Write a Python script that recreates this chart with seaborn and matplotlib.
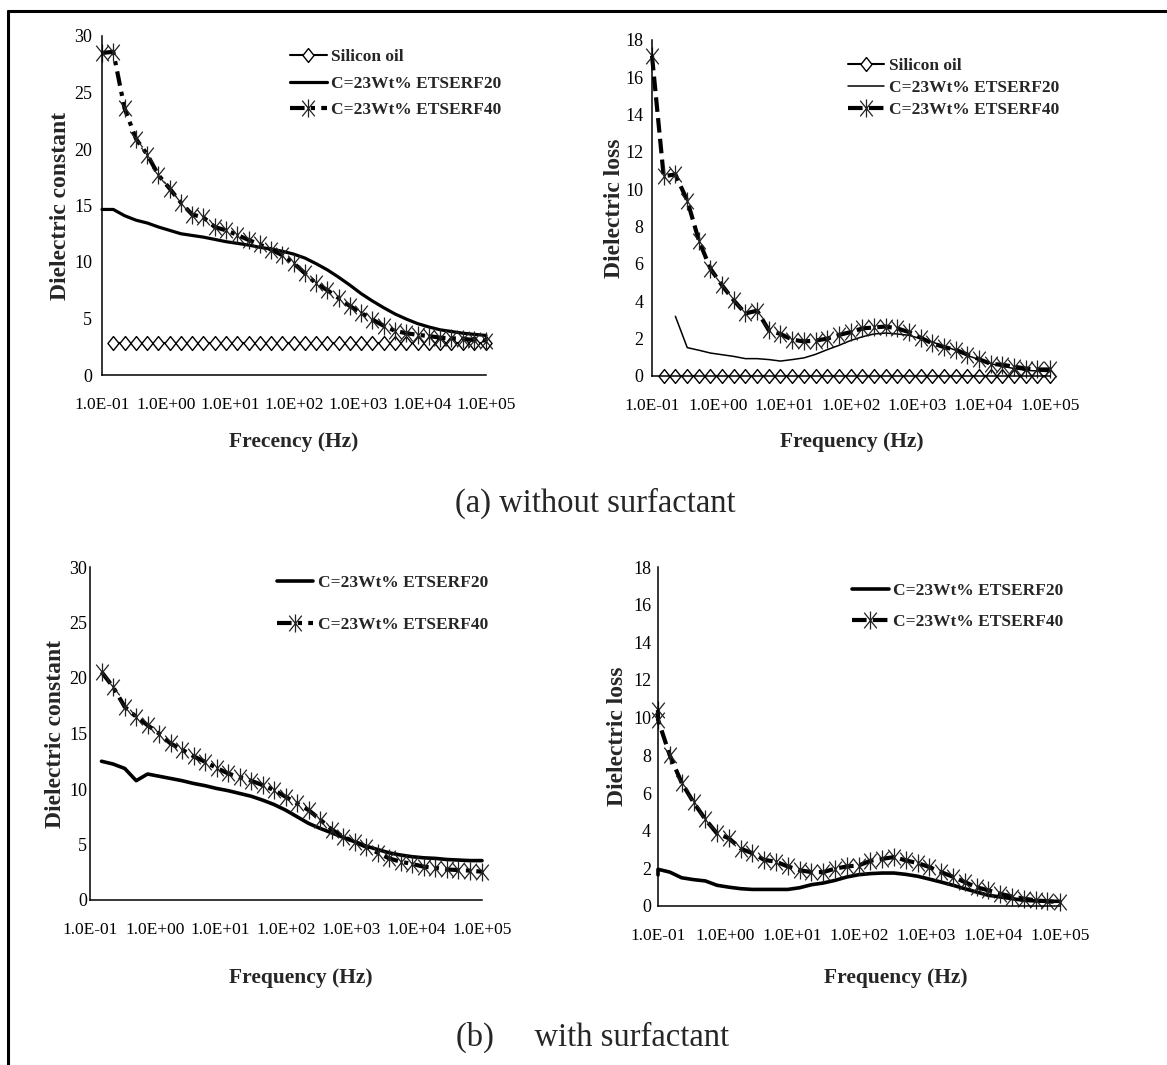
import numpy as np
import pandas as pd
import matplotlib
matplotlib.use("Agg")
import matplotlib.pyplot as plt
from matplotlib.path import Path
from matplotlib.lines import Line2D
from matplotlib.ticker import FixedLocator, FixedFormatter, MultipleLocator, LogLocator, NullFormatter
import seaborn as sns

# ---------------- data ----------------
freq = [0.1, 0.15, 0.225, 0.34, 0.51, 0.76, 1.14, 1.71, 2.56, 3.84, 5.77, 8.65,
        13.0, 19.5, 29.2, 43.8, 65.7, 98.5, 148, 222, 333, 499, 748, 1120, 1680,
        2530, 3790, 5680, 8520, 12800, 19200, 28800, 43100, 64700, 100000]

xtick_values = [0.1, 1, 10, 100, 1000, 10000, 100000]
xtick_labels = ["1.0E-01", "1.0E+00", "1.0E+01", "1.0E+02", "1.0E+03", "1.0E+04", "1.0E+05"]

label_oil = "Silicon oil"
label_20 = "C=23Wt% ETSERF20"
label_40 = "C=23Wt% ETSERF40"

# (a) without surfactant - dielectric constant
freq_oil_a = freq[1:]
oil_const_a = [2.85, 2.85, 2.85, 2.85, 2.85, 2.85, 2.85, 2.85, 2.85, 2.85, 2.85, 2.85,
               2.85, 2.85, 2.85, 2.85, 2.85, 2.85, 2.85, 2.85, 2.85, 2.85, 2.85, 2.85,
               2.85, 2.85, 2.85, 2.85, 2.85, 2.85, 2.85, 2.85, 2.85, 2.85]
f20_const_a = [14.65, 14.65, 14.1, 13.7, 13.45, 13.1, 12.8, 12.5, 12.35, 12.2, 12.0, 11.8,
               11.65, 11.5, 11.3, 11.15, 10.95, 10.7, 10.35, 9.85, 9.3, 8.65, 7.95, 7.2,
               6.55, 5.95, 5.4, 4.95, 4.55, 4.25, 4.0, 3.85, 3.7, 3.6, 3.5]
f40_const_a = [28.5, 28.6, 23.6, 20.9, 19.5, 17.7, 16.5, 15.25, 14.2, 13.95, 13.1, 12.8,
               12.4, 11.95, 11.55, 11.1, 10.6, 9.9, 9.0, 8.1, 7.5, 6.8, 6.1, 5.5,
               4.9, 4.35, 3.9, 3.7, 3.55, 3.45, 3.3, 3.25, 3.2, 3.1, 3.05]

# (a) without surfactant - dielectric loss
oil_loss_a = [0.02, 0.02, 0.02, 0.02, 0.02, 0.02, 0.02, 0.02, 0.02, 0.02, 0.02, 0.02,
              0.02, 0.02, 0.02, 0.02, 0.02, 0.02, 0.02, 0.02, 0.02, 0.02, 0.02, 0.02,
              0.02, 0.02, 0.02, 0.02, 0.02, 0.02, 0.02, 0.02, 0.02, 0.02]
freq_20_loss_a = freq[2:]
f20_loss_a = [3.2, 1.52, 1.38, 1.23, 1.14, 1.05, 0.93, 0.93, 0.88, 0.8, 0.88, 0.97,
              1.16, 1.41, 1.64, 1.9, 2.1, 2.25, 2.3, 2.25, 2.18, 2.0, 1.82, 1.6,
              1.38, 1.1, 0.88, 0.66, 0.52, 0.4, 0.3, 0.27, 0.23]
f40_loss_a = [17.15, 10.7, 10.8, 9.4, 7.25, 5.75, 4.85, 4.05, 3.35, 3.5, 2.45, 2.25,
              1.95, 1.85, 1.9, 2.0, 2.2, 2.35, 2.55, 2.6, 2.65, 2.55, 2.35, 2.05,
              1.75, 1.55, 1.4, 1.15, 0.9, 0.65, 0.6, 0.5, 0.4, 0.35, 0.35]

# (b) with surfactant - dielectric constant
freq_b = freq[1:]
f20_const_b = [12.5, 12.25, 11.85, 10.75, 11.35, 11.15, 10.95, 10.75, 10.5, 10.3, 10.05, 9.85,
               9.6, 9.35, 9.0, 8.6, 8.1, 7.5, 6.9, 6.45, 6.05, 5.65, 5.25, 4.85,
               4.55, 4.25, 4.05, 3.9, 3.8, 3.75, 3.65, 3.6, 3.55, 3.55]
f40_const_b = [20.55, 19.2, 17.4, 16.5, 15.75, 15.0, 14.1, 13.55, 12.95, 12.45, 11.9, 11.4,
               11.05, 10.75, 10.35, 9.9, 9.3, 8.7, 8.1, 7.25, 6.35, 5.7, 5.25, 4.8,
               4.25, 3.75, 3.45, 3.25, 3.0, 2.9, 2.75, 2.7, 2.65, 2.55]

# (b) with surfactant - dielectric loss (two readings at 0.1 Hz)
freq_b_loss = [0.1] + freq
f20_loss_b = [1.65, 1.95, 1.8, 1.5, 1.4, 1.33, 1.1, 1.0, 0.92, 0.88, 0.88, 0.88, 0.88,
              0.97, 1.13, 1.22, 1.36, 1.54, 1.66, 1.72, 1.75, 1.75, 1.68, 1.58,
              1.43, 1.27, 1.1, 0.92, 0.74, 0.57, 0.48, 0.39, 0.3, 0.27, 0.25, 0.25]
f40_loss_b = [10.4, 9.9, 8.0, 6.55, 5.5, 4.6, 3.85, 3.6, 3.05, 2.8, 2.45, 2.35, 2.1,
              1.9, 1.8, 1.8, 1.98, 2.1, 2.15, 2.4, 2.5, 2.6, 2.42, 2.28,
              2.07, 1.8, 1.55, 1.27, 1.0, 0.83, 0.65, 0.5, 0.39, 0.3, 0.25, 0.21]

# ---------------- style ----------------
sns.set_style("white")
plt.rcParams["font.family"] = ["Liberation Serif", "DejaVu Serif"]
plt.rcParams["axes.linewidth"] = 1.1
plt.rcParams["legend.numpoints"] = 1

star = Path([(-0.8, -1), (0.8, 1), (-0.8, 1), (0.8, -1), (0, -1.15), (0, 1.15)],
            [Path.MOVETO, Path.LINETO, Path.MOVETO, Path.LINETO, Path.MOVETO, Path.LINETO])
diamond = Path([(0, 1), (0.8, 0), (0, -1), (-0.8, 0), (0, 1)],
               [Path.MOVETO, Path.LINETO, Path.LINETO, Path.LINETO, Path.CLOSEPOLY])

W, H = 1167, 1065
fig = plt.figure(figsize=(W / 100, H / 100), dpi=100)


def rect(l, r, t, b):
    return [l / W, 1 - b / H, (r - l) / W, (b - t) / H]


def draw(ax, x, y, label, **kws):
    df = pd.DataFrame({"f": x, "v": y})
    sns.lineplot(data=df, x="f", y="v", ax=ax, estimator=None, sort=False,
                 label=label, clip_on=False, **kws)


def oil(ax, x, y):
    draw(ax, x, y, label_oil, color="black", lw=1.5, marker=diamond, markersize=10,
         markerfacecolor="white", markeredgecolor="black", markeredgewidth=1.0)


def s20(ax, x, y, lw):
    draw(ax, x, y, label_20, color="black", lw=lw)


def s40(ax, x, y, ls):
    draw(ax, x, y, label_40, color="black", lw=3.0, linestyle=ls, marker=star,
         markersize=13, markerfacecolor="none", markeredgecolor="#222222",
         markeredgewidth=0.9)


def style_axis(ax, ymax, ymaj, ymin, ylabel, xlabel, ylab_x, xlab_xy, ypad):
    ax.set_xscale("log")
    ax.set_xlim(0.1, 1e5)
    ax.set_ylim(0, ymax)
    ax.xaxis.set_major_locator(FixedLocator(xtick_values))
    ax.xaxis.set_major_formatter(FixedFormatter(xtick_labels))
    ax.xaxis.set_minor_locator(LogLocator(base=10, subs=np.arange(2, 10)))
    ax.xaxis.set_minor_formatter(NullFormatter())
    ax.yaxis.set_major_locator(MultipleLocator(ymaj))
    ax.yaxis.set_minor_locator(MultipleLocator(ymin))
    ax.tick_params(axis="both", which="both", direction="in", colors="black", width=1.0)
    ax.tick_params(axis="x", which="major", labelsize=12.5)
    ax.tick_params(axis="y", which="major", labelsize=13)
    ax.tick_params(axis="both", which="major", length=4.5)
    ax.tick_params(axis="both", which="minor", length=3.2)
    ax.tick_params(axis="x", which="major", pad=16)
    ax.tick_params(axis="y", which="major", pad=ypad)
    sns.despine(ax=ax)
    for s in ("left", "bottom"):
        ax.spines[s].set_color("black")
    ax.set_ylabel(ylabel, fontsize=17, fontweight="bold")
    ax.set_xlabel(xlabel, fontsize=15.5, fontweight="bold")
    ax.yaxis.label.set_va("center")
    ax.xaxis.label.set_va("center")
    ax.yaxis.set_label_coords(ylab_x, 0.5)
    ax.xaxis.set_label_coords(*xlab_xy)
    ax.grid(False)


def legend(ax, x, y, spacing, hlen=2.1, pad=0.25):
    leg = ax.legend(loc="upper left", bbox_to_anchor=(x, y), frameon=False,
                    borderpad=0, borderaxespad=0, labelspacing=spacing,
                    handlelength=hlen, handletextpad=pad,
                    prop={"family": "Liberation Serif", "weight": "bold", "size": 12.5})
    return leg


dash_dot = (0, (3.5, 1.5, 1.0, 1.5))
dashed = (0, (3.5, 1.5))

# (a) left: dielectric constant
ax1 = fig.add_axes(rect(102, 486, 36, 375))
oil(ax1, freq_oil_a, oil_const_a)
s20(ax1, freq, f20_const_a, 2.3)
s40(ax1, freq, f40_const_a, dash_dot)
style_axis(ax1, 30, 5, 1, "Dielectric constant", "Frecency (Hz)",
           -0.107, (0.5, -0.198), 7)
legend(ax1, 0.49, 0.962, 0.6)

# (a) right: dielectric loss
ax2 = fig.add_axes(rect(652, 1050, 40, 376))
oil(ax2, freq_oil_a, oil_loss_a)
s20(ax2, freq_20_loss_a, f20_loss_a, 1.1)
s40(ax2, freq, f40_loss_a, dashed)
style_axis(ax2, 18, 2, 0.5, "Dielectric loss", "Frequency (Hz)",
           -0.095, (0.503, -0.196), 6)
legend(ax2, 0.492, 0.946, 0.32)

# (b) left: dielectric constant
ax3 = fig.add_axes(rect(90, 482, 567, 900))
s20(ax3, freq_b, f20_const_b, 2.6)
s40(ax3, freq_b, f40_const_b, dash_dot)
style_axis(ax3, 30, 5, 1, "Dielectric constant", "Frequency (Hz)",
           -0.089, (0.538, -0.234), 2)
legend(ax3, 0.477, 0.976, 1.5)

# (b) right: dielectric loss
ax4 = fig.add_axes(rect(658, 1060, 567, 906))
s20(ax4, freq_b_loss, f20_loss_b, 2.6)
s40(ax4, freq_b_loss, f40_loss_b, dashed)
style_axis(ax4, 18, 2, 0.5, "Dielectric loss", "Frequency (Hz)",
           -0.1, (0.592, -0.212), 5)
legend(ax4, 0.483, 0.953, 0.85)

# captions
fig.text(595 / W, 1 - 503 / H, "(a) without surfactant", ha="center", va="center",
         fontsize=23.5)
fig.text(593 / W, 1 - 1037 / H, "(b)     with surfactant", ha="center", va="center",
         fontsize=23.5)

# frame lines (top and left) of the original figure cell
fig.add_artist(Line2D([8 / W, 1.0], [1 - 11 / H, 1 - 11 / H], color="black", lw=2.2,
                      transform=fig.transFigure))
fig.add_artist(Line2D([8 / W, 8 / W], [1 - 11 / H, 0.0], color="black", lw=2.2,
                      transform=fig.transFigure))

fig.savefig("out.png", dpi=100)
